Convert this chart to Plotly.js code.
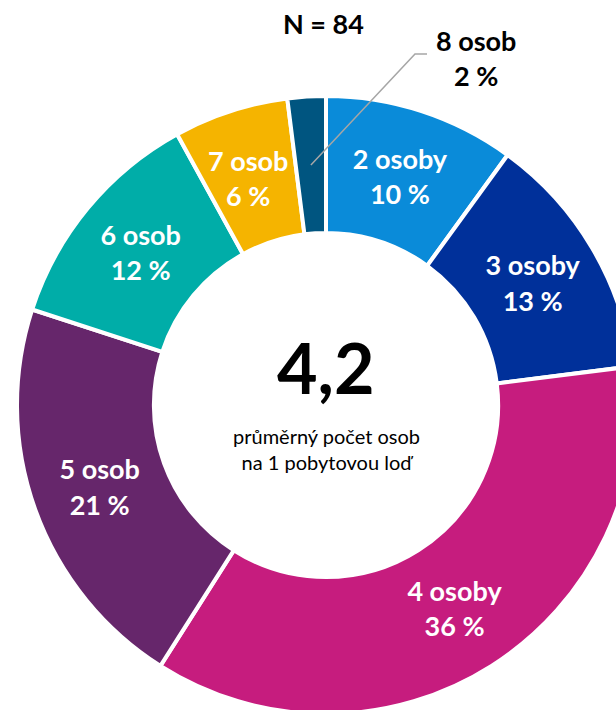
<!DOCTYPE html>
<html>
<head>
<meta charset="utf-8">
<script src="https://cdn.plot.ly/plotly-3.0.1.min.js"></script>
<style>
html,body{margin:0;padding:0;overflow:hidden;background:#fff;width:616px;height:710px;}
#chart{width:660px;height:812px;}
</style>
</head>
<body>
<div id="chart"></div>
<script>
const categories = ["2 osoby", "3 osoby", "4 osoby", "5 osob", "6 osob", "7 osob", "8 osob"];
const shares = [10, 13, 36, 21, 12, 6, 2];
const colors = ["#0A8BD9", "#00309A", "#C61C7E", "#66266B", "#00ADA8", "#F5B400", "#005580"];
const sampleSize = "N = 84";
const meanValue = "4,2";
const meanLabel = "průměrný počet osob<br>na 1 pobytovou loď";

const W = 660, H = 812;
const cx = 326, cy = 405, R = 309, hole = 0.557;
const px = x => x / W;
const py = y => 1 - y / H;
const FONT = "Lato, 'DejaVu Sans', sans-serif";
const n = categories.length;

// slices 7 and 8 get their labels as annotations (7 inside at full size, 8 outside with leader)
const textpos = categories.map((c, i) => i >= n - 2 ? "none" : "inside");

const total = shares.reduce((a, b) => a + b, 0);
const rMid = R * (1 + hole) / 2;
function midPoint(i) {
  let cum = 0;
  for (let k = 0; k < i; k++) cum += shares[k];
  const a = (cum + shares[i] / 2) / total * 2 * Math.PI;
  return [cx + rMid * Math.sin(a), cy - rMid * Math.cos(a)];
}
const [ex, ey] = midPoint(n - 1);
const [sx, sy] = midPoint(n - 2);

const trace = {
  type: "pie",
  labels: categories,
  values: shares,
  sort: false,
  direction: "clockwise",
  rotation: 0,
  hole: hole,
  marker: {colors: colors, line: {color: "#ffffff", width: 4}},
  textposition: textpos,
  texttemplate: "<b>%{label}<br>%{value} %</b>",
  insidetextorientation: "horizontal",
  insidetextfont: {family: FONT, size: 27, color: "#ffffff"},
  hoverinfo: "none",
  showlegend: false,
  domain: {x: [px(cx - R), px(cx + R)], y: [py(cy + R), py(cy - R)]}
};

const ann = (x, y, text, size, color) => ({
  x: px(x), y: py(y), xref: "paper", yref: "paper", xanchor: "center", yanchor: "middle",
  text: text, showarrow: false, font: {family: FONT, size: size, color: color || "#000"}
});

const layout = {
  width: W, height: H,
  margin: {l: 0, r: 0, t: 0, b: 0},
  paper_bgcolor: "#ffffff",
  showlegend: false,
  shapes: [{
    type: "path", xref: "paper", yref: "paper",
    path: `M ${px(427)} ${py(54)} L ${px(415)} ${py(54)} L ${px(ex)} ${py(ey)}`,
    line: {color: "#A6A6A6", width: 1.5}
  }],
  annotations: [
    ann(323, 24, "<b>" + sampleSize + "</b>", 27),
    ann(476, 58, "<b>" + categories[n - 1] + "<br>" + shares[n - 1] + " %</b>", 27),
    ann(sx - 4, sy + 2, "<b>" + categories[n - 2] + "<br>" + shares[n - 2] + " %</b>", 27, "#ffffff"),
    ann(cx, 367, "<b>" + meanValue + "</b>", 70),
    ann(cx, 449, meanLabel, 20)
  ]
};

Plotly.newPlot("chart", [trace], layout, {displayModeBar: false, staticPlot: true});
</script>
</body>
</html>
